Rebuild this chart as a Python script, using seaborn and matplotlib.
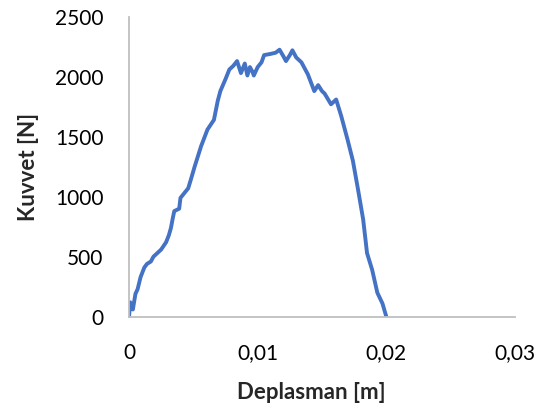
import matplotlib
matplotlib.use("Agg")
import matplotlib.pyplot as plt
import seaborn as sns
import pandas as pd
from matplotlib.ticker import FuncFormatter

deplasman = [0.0, 0.0001, 0.0003, 0.0005, 0.00067, 0.0009, 0.00119, 0.0014, 0.0017, 0.0019,
             0.0021, 0.0025, 0.00288, 0.0031, 0.00326, 0.0034, 0.00352, 0.0039, 0.0040,
             0.0043, 0.0046, 0.0048, 0.0051, 0.0056, 0.0061, 0.0066, 0.0069, 0.0071,
             0.0075, 0.0078, 0.0081, 0.0084, 0.0087, 0.0090, 0.0092, 0.0094, 0.0096,
             0.0097, 0.0100, 0.0103, 0.0105, 0.0110, 0.0114, 0.0117, 0.0120, 0.0122,
             0.0125, 0.0127, 0.0130, 0.0134, 0.0139, 0.0144, 0.0147, 0.0150, 0.0152,
             0.0157, 0.0161, 0.0163, 0.0165, 0.0170, 0.0174, 0.0178, 0.0182, 0.0185,
             0.0189, 0.0193, 0.0197, 0.0200]
kuvvet = [0, 120, 60, 190, 230, 330, 410, 440, 460, 500,
          520, 560, 620, 680, 740, 820, 880, 900, 990,
          1030, 1070, 1140, 1250, 1420, 1560, 1640, 1800, 1880,
          1980, 2060, 2090, 2130, 2030, 2110, 2010, 2080, 2040,
          2010, 2080, 2120, 2180, 2190, 2200, 2225, 2170, 2130,
          2180, 2220, 2160, 2120, 2020, 1880, 1930, 1880, 1860,
          1770, 1810, 1740, 1670, 1470, 1300, 1060, 810, 530,
          390, 200, 110, 0]

x_ticks = [0, 0.01, 0.02, 0.03]
y_ticks = [0, 500, 1000, 1500, 2000, 2500]

df = pd.DataFrame({"Deplasman": deplasman, "Kuvvet": kuvvet})

sns.set_style("white")
plt.rcParams["font.family"] = ["Lato", "DejaVu Sans"]

fig = plt.figure(figsize=(5.42, 4.12), dpi=100)
# axes: x from px 129 to 515, y from px 16.7 to 316.7
ax = fig.add_axes([129 / 542, (412 - 316.7) / 412, 386 / 542, 300 / 412])
sns.lineplot(data=df, x="Deplasman", y="Kuvvet", sort=False, ax=ax,
             color="#4472C4", linewidth=2.8, estimator=None)

ax.set_xlim(0, 0.03)
ax.set_ylim(0, 2500)
ax.set_xticks(x_ticks)
ax.set_yticks(y_ticks)
ax.xaxis.set_major_formatter(FuncFormatter(lambda v, p: "0" if v == 0 else f"{v:.2f}".replace(".", ",")))
ax.yaxis.set_major_formatter(FuncFormatter(lambda v, p: f"{int(v)}"))

for s in ["top", "right"]:
    ax.spines[s].set_visible(False)
for s in ["left", "bottom"]:
    ax.spines[s].set_color("#BFBFBF")
    ax.spines[s].set_linewidth(1.3)
ax.tick_params(axis="both", direction="out", length=6, width=1.3, color="#BFBFBF",
               labelsize=15, labelcolor="black")
ax.tick_params(axis="x", pad=13)
ax.tick_params(axis="y", pad=12.5)

ax.set_xlabel("Deplasman [m]", fontsize=16, fontweight="bold")
ax.set_ylabel("Kuvvet [N]", fontsize=16, fontweight="bold")
ax.xaxis.set_label_coords((311 - 129) / 386, (316.7 - 382) / 300)
ax.yaxis.set_label_coords((39 - 129) / 386, 0.5)

fig.savefig("out.png", dpi=100, facecolor="white")
